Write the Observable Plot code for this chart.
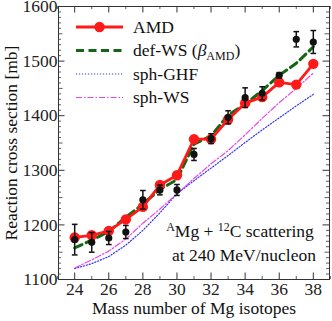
<!DOCTYPE html>
<html>
<head>
<meta charset="utf-8">
<script src="https://cdn.jsdelivr.net/npm/d3@7"></script>
<script src="https://cdn.jsdelivr.net/npm/@observablehq/plot@0.6"></script>
<style>
  html, body { margin: 0; padding: 0; background: #fff; }
  #chart svg { display: block; }
</style>
</head>
<body>
<div id="chart"></div>
<script>
// ---- data ----
const massNumbers = [24, 25, 26, 27, 28, 29, 30, 31, 32, 33, 34, 35, 36, 37, 38];
const amd    = [1177, 1181, 1189, 1210, 1233, 1273, 1291, 1357, 1357, 1393, 1423, 1434, 1461, 1457, 1495];
const defWS  = [1158, 1172, 1188, 1214, 1238, 1265, 1283, 1348, 1363, 1401, 1421, 1446, 1474, 1496, 1526];
const sphGHF = [1120, 1129, 1142, 1163, 1190, 1222, 1257, 1281, 1304, 1327, 1351, 1374, 1396, 1418, 1439];
const sphWS  = [1121, 1136, 1152, 1174, 1203, 1229, 1257, 1285, 1312, 1336, 1365, 1395, 1424, 1450, 1478];
const expVal = [1173, 1168, 1176, 1187, 1246, 1264, 1264, 1329, 1358, 1397, 1433, 1441, 1474, 1540, 1535];
const expErr = [28, 18, 12, 12, 17, 9, 10, 11, 9, 12, 18, 12, 5, 14, 21];

const xTickLabels = [24, 26, 28, 30, 32, 34, 36, 38];
const xMinorTicks = [23, 24, 25, 26, 27, 28, 29, 30, 31, 32, 33, 34, 35, 36, 37, 38, 39];
const yTickLabels = [1100, 1200, 1300, 1400, 1500, 1600];
const yMinorTicks = d3.range(1100, 1601, 10);

const legendNames = ["AMD", "def-WS", "sph-GHF", "sph-WS"];

// ---- tables ----
const rows = (vals) => massNumbers.map((m, i) => ({m, v: vals[i]}));
const amdRows = rows(amd), defRows = rows(defWS), ghfRows = rows(sphGHF), wsRows = rows(sphWS);
const expRows = massNumbers.map((m, i) => ({m, v: expVal[i], lo: expVal[i] - expErr[i], hi: expVal[i] + expErr[i]}));

// ---- styles ----
const W = 332, H = 321;
const mL = 58, mR = 3, mT = 6, mB = 42;
const pw = W - mL - mR, ph = H - mT - mB;
const font = "'Liberation Serif', 'Times New Roman', serif";
const FS = 17.5;
const RED = "#ff1a1a", GREEN = "#146614", BLUE = "#3434f0", MAG = "#e844e8";

const cap = {draw(ctx, size) { const r = Math.sqrt(size) / 2; ctx.moveTo(-r, 0); ctx.lineTo(r, 0); }};

const isMajorY = (d) => d % 100 === 0;
const isMidY = (d) => d % 50 === 0 && d % 100 !== 0;

const plot = Plot.plot({
  width: W, height: H,
  marginLeft: mL, marginRight: mR, marginTop: mT, marginBottom: mB,
  style: {fontFamily: font, fontSize: FS + "px", color: "#222", background: "#fff"},
  x: {domain: [23.05, 38.95]},
  y: {domain: [1100, 1600]},
  marks: [
    // inward ticks, all four sides
    Plot.tickY(yMinorTicks.filter(d => !isMajorY(d) && !isMidY(d)), {y: d => d, insetRight: pw - 3, stroke: "#333", strokeWidth: 0.8}),
    Plot.tickY(yMinorTicks.filter(d => !isMajorY(d) && !isMidY(d)), {y: d => d, insetLeft: pw - 3, stroke: "#333", strokeWidth: 0.8}),
    Plot.tickY(yMinorTicks.filter(isMidY), {y: d => d, insetRight: pw - 4.5, stroke: "#333", strokeWidth: 0.8}),
    Plot.tickY(yMinorTicks.filter(isMidY), {y: d => d, insetLeft: pw - 4.5, stroke: "#333", strokeWidth: 0.8}),
    Plot.tickY(yTickLabels, {y: d => d, insetRight: pw - 6.5, stroke: "#333", strokeWidth: 1}),
    Plot.tickY(yTickLabels, {y: d => d, insetLeft: pw - 6.5, stroke: "#333", strokeWidth: 1}),
    Plot.tickX(xMinorTicks.filter(d => d % 2 === 1), {x: d => d, insetTop: ph - 3, stroke: "#333", strokeWidth: 0.8}),
    Plot.tickX(xMinorTicks.filter(d => d % 2 === 1), {x: d => d, insetBottom: ph - 3, stroke: "#333", strokeWidth: 0.8}),
    Plot.tickX(xTickLabels, {x: d => d, insetTop: ph - 6.5, stroke: "#333", strokeWidth: 1}),
    Plot.tickX(xTickLabels, {x: d => d, insetBottom: ph - 6.5, stroke: "#333", strokeWidth: 1}),
    Plot.axisY({ticks: yTickLabels, tickSize: 0, tickPadding: 1, tickFormat: d => String(d), label: null, fontSize: FS}),
    Plot.axisX({ticks: xTickLabels, tickSize: 0, tickPadding: 3, tickFormat: d => String(d), label: null, fontSize: FS}),
    Plot.frame({stroke: "#333", strokeWidth: 1}),
    // axis titles
    Plot.text(["Reaction cross section [mb]"], {frameAnchor: "left", textAnchor: "middle", rotate: -90, dx: -47, fontSize: FS, fill: "#111"}),
    Plot.text(["Mass number of Mg isotopes"], {frameAnchor: "bottom", dy: 34, fontSize: FS, fill: "#111"}),
    // model curves
    Plot.line(ghfRows, {x: "m", y: "v", stroke: BLUE, strokeWidth: 1.2, strokeDasharray: "1.2 1.8"}),
    Plot.line(wsRows, {x: "m", y: "v", stroke: MAG, strokeWidth: 1.2, strokeDasharray: "6 2 1.5 2"}),
    Plot.line(defRows, {x: "m", y: "v", stroke: GREEN, strokeWidth: 3, strokeDasharray: "8 4.5"}),
    Plot.line(amdRows, {x: "m", y: "v", stroke: RED, strokeWidth: 2.8}),
    Plot.dot(amdRows, {x: "m", y: "v", fill: RED, r: 5.2}),
    // experiment
    Plot.ruleX(expRows, {x: "m", y1: "lo", y2: "hi", stroke: "#111", strokeWidth: 1.5}),
    Plot.dot(expRows, {x: "m", y: "lo", symbol: cap, r: 3.2, stroke: "#111", strokeWidth: 1.5}),
    Plot.dot(expRows, {x: "m", y: "hi", symbol: cap, r: 3.2, stroke: "#111", strokeWidth: 1.5}),
    Plot.dot(expRows, {x: "m", y: "v", fill: "#111", r: 3.6})
  ]
});
document.getElementById("chart").appendChild(plot);

// ---- legend and annotation (drawn inside the svg) ----
const svg = d3.select(plot);
const legendStyles = [
  {stroke: RED, width: 2.8, dash: null, marker: true},
  {stroke: GREEN, width: 3, dash: "8 4.5"},
  {stroke: BLUE, width: 1.2, dash: "1.2 1.8"},
  {stroke: MAG, width: 1.2, dash: "6 2 1.5 2"}
];
const legendY = [27, 50.5, 74, 97.5];
const lg = svg.append("g").attr("font-family", font).attr("font-size", FS).attr("fill", "#111").attr("text-anchor", "start");
legendNames.forEach((name, i) => {
  const s = legendStyles[i];
  const y = legendY[i];
  const ln = lg.append("line").attr("x1", 76).attr("x2", 123).attr("y1", y).attr("y2", y)
    .attr("stroke", s.stroke).attr("stroke-width", s.width);
  if (s.dash) ln.attr("stroke-dasharray", s.dash);
  if (s.marker) lg.append("circle").attr("cx", 99.5).attr("cy", y).attr("r", 5.2).attr("fill", s.stroke);
  const t = lg.append("text").attr("x", 133).attr("y", y).attr("dy", "0.33em").attr("text-anchor", "start");
  if (i === 1) {
    t.append("tspan").text("def-WS (");
    t.append("tspan").attr("font-style", "italic").text("β");
    t.append("tspan").attr("font-size", 12).attr("dy", 4).text("AMD");
    t.append("tspan").attr("dy", -4).text(")");
  } else {
    t.text(name);
  }
});

const ann = svg.append("g").attr("font-family", font).attr("font-size", FS).attr("fill", "#111").attr("text-anchor", "middle");
const a1 = ann.append("text").attr("x", 240).attr("y", 237);
a1.append("tspan").attr("font-size", 12).attr("dy", -6).text("A");
a1.append("tspan").attr("dy", 6).text("Mg + ");
a1.append("tspan").attr("font-size", 12).attr("dy", -6).text("12");
a1.append("tspan").attr("dy", 6).text("C scattering");
ann.append("text").attr("x", 244).attr("y", 261).text("at 240 MeV/nucleon");
</script>
</body>
</html>
